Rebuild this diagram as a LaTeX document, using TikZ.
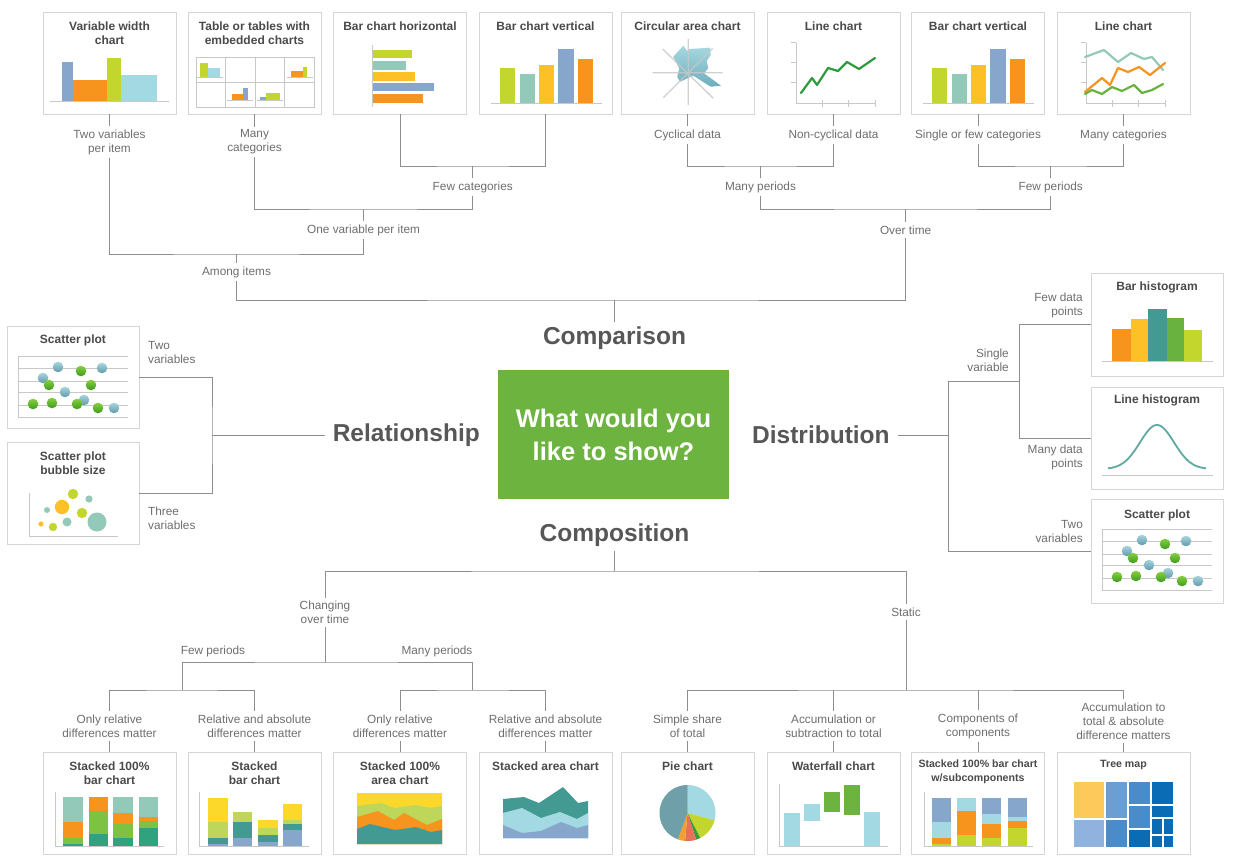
\documentclass[tikz,border=0pt]{standalone}
\usepackage{fontspec}
\setmainfont{Liberation Sans}
\definecolor{boxgray}{HTML}{D6D6D6}
\definecolor{linegray}{HTML}{8E8E8E}
\definecolor{lblgray}{HTML}{6E6E6E}
\definecolor{ttlgray}{HTML}{4A4A4A}
\definecolor{biggray}{HTML}{575757}
\definecolor{axgray}{HTML}{C8C8C8}
\definecolor{cgreen}{HTML}{6DB33F}
\definecolor{cyg}{HTML}{C2D62E}
\definecolor{cmint}{HTML}{93C9B8}
\definecolor{cyellow}{HTML}{FDC127}
\definecolor{cyellowb}{HTML}{FCD82B}
\definecolor{cblue}{HTML}{86A6CB}
\definecolor{corange}{HTML}{F7941D}
\definecolor{clblue}{HTML}{A3D9E2}
\definecolor{cteal}{HTML}{439A92}
\definecolor{cgreenb}{HTML}{6AB23F}
\definecolor{cdgreen}{HTML}{2E9B3E}
\definecolor{cgreenc}{HTML}{7DC242}
\definecolor{ctgreen}{HTML}{2FA37E}
\definecolor{cyg2}{HTML}{BED65A}
\definecolor{btealA}{HTML}{A9D5DF}
\definecolor{btealB}{HTML}{5F9AA8}
\definecolor{bgreenA}{HTML}{86D040}
\definecolor{bgreenB}{HTML}{3E9A1F}
\definecolor{circA}{HTML}{A6D8E1}
\definecolor{circB}{HTML}{6FAEBC}
\definecolor{psalmon}{HTML}{E8705A}
\definecolor{porange}{HTML}{F0A030}
\definecolor{pdgreen}{HTML}{3A9A3A}
\definecolor{pgteal}{HTML}{6F9FA8}
\definecolor{tyellow}{HTML}{FDC95B}
\definecolor{tlblue}{HTML}{8FB3DE}
\definecolor{tmed}{HTML}{6A9FD6}
\definecolor{tblue}{HTML}{4A8CC9}
\definecolor{tdark}{HTML}{0A6CB5}
\tikzset{
 panel/.style={draw=boxgray, line width=0.9pt, fill=white, rectangle, inner sep=0pt},
 conn/.style={draw=linegray, line width=0.9pt},
 lbl/.style={font=\fontsize{11.8}{14}\selectfont, text=lblgray, align=center, inner xsep=1pt, inner ysep=3pt},
 ttl/.style={font=\bfseries\fontsize{12}{14}\selectfont, text=ttlgray, align=center, inner sep=0pt},
 ttls/.style={font=\bfseries\fontsize{10.6}{13.5}\selectfont, text=ttlgray, align=center, inner sep=0pt},
 big/.style={font=\bfseries\fontsize{24.5}{28}\selectfont, text=biggray, inner xsep=8pt, inner ysep=4pt},
 axisl/.style={draw=axgray, line width=1pt},
 gridl/.style={draw=axgray, line width=0.8pt},
 chline/.style={line width=2.2pt, line join=round, line cap=round},
 tball/.style={top color=btealA, bottom color=btealB},
 gball/.style={top color=bgreenA, bottom color=bgreenB},
}
\newcommand{\myscatter}[2]{%
\begin{scope}[shift={(#1,#2)}]
\foreach \yy in {30,42,55,66,79} \draw[gridl] (11,\yy) -- (121,\yy);
\draw[axisl] (11,30) -- (11,91) -- (121,91);
\foreach \p in {(51,41),(95,42),(36,52),(58,66),(77,74),(107,82)} \shade[tball] \p circle (5.3);
\foreach \p in {(74,45),(42,59),(84,59),(26,78),(45,77),(70,78),(91,82)} \shade[gball] \p circle (5.3);
\end{scope}}
\begin{document}
\begin{tikzpicture}[x=1pt,y=-1pt]
\useasboundingbox (0,0) rectangle (1245,864);
\fill[white] (0,0) rectangle (1245,864);

% ---------- top panels ----------
\foreach \i/\cx in {1/109.5,2/254.5,3/400,4/545.5,5/687.5,6/833.5,7/978,8/1123.5}
  \node[panel, minimum width=133pt, minimum height=102pt] (t\i) at (\cx,63) {};
\node[ttl] (tt1) at (109.5,33) {Variable width\\chart};
\node[ttl] (tt2) at (254.5,33) {Table or tables with\\embedded charts};
\node[ttl] (tt3) at (400,26) {Bar chart horizontal};
\node[ttl] (tt4) at (545.5,26) {Bar chart vertical};
\node[ttl] (tt5) at (687.5,26) {Circular area chart};
\node[ttl] (tt6) at (833.5,26) {Line chart};
\node[ttl] (tt7) at (978,26) {Bar chart vertical};
\node[ttl] (tt8) at (1123.5,26) {Line chart};

% chart 1 variable width
\fill[cblue] (62,62) rectangle (73,102);
\fill[corange] (73,80) rectangle (106.5,102);
\fill[cyg] (106.5,58) rectangle (121,102);
\fill[clblue] (121,75) rectangle (157,102);
\draw[axisl] (50,102) -- (169,102);
% chart 2 table
\draw[gridl] (196,57) rectangle (314,107);
\draw[gridl] (225.5,57) -- (225.5,107) (255,57) -- (255,107) (284.5,57) -- (284.5,107) (196,82) -- (314,82);
\fill[cyg] (200,63) rectangle (207.5,77); \fill[clblue] (207.5,68) rectangle (220,77);
\draw[axisl,line width=0.7pt] (197,77.5) -- (223,77.5);
\fill[corange] (291,71) rectangle (303,77); \fill[cyg] (303,67) rectangle (307,77);
\draw[axisl,line width=0.7pt] (287,77.5) -- (313,77.5);
\fill[corange] (232,94) rectangle (243,100); \fill[cblue] (243,88) rectangle (248,100);
\draw[axisl,line width=0.7pt] (227,100.5) -- (253,100.5);
\fill[cblue] (259.5,97) rectangle (266,100); \fill[cyg] (266,93) rectangle (280,100);
\draw[axisl,line width=0.7pt] (257,100.5) -- (283,100.5);
% chart 3 horizontal bars
\fill[cyg] (372,50) rectangle (412,58);
\fill[cmint] (372,61) rectangle (406,70);
\fill[cyellow] (372,72) rectangle (415,81);
\fill[cblue] (372,83) rectangle (434,91);
\fill[corange] (372,94) rectangle (423,103);
\draw[axisl] (372,45) -- (372,107);
% chart 4 and 7 vertical bars
\foreach \dx in {0,432}{
\begin{scope}[shift={(\dx,0)}]
\fill[cyg] (500,68) rectangle (515,104);
\fill[cmint] (519.5,74) rectangle (534.5,104);
\fill[cyellow] (539,65) rectangle (554,104);
\fill[cblue] (558,49) rectangle (573.5,104);
\fill[corange] (578,59) rectangle (593,104);
\draw[axisl] (491,104) -- (602,104);
\end{scope}}
% chart 5 circular area
\shade[top color=circA, bottom color=circB] (673.3,56.7) -- (683.3,45.7) -- (687.3,51) -- (690,49) -- (710,47.7) -- (710.7,55) -- (706.7,61) -- (708.3,68.3) -- (704,73.3) -- (721,85.7) -- (710.7,86.7) -- (693.3,75.7) -- (680,81.7) -- (677.3,76.7) -- (679.3,68.3) -- cycle;
\draw[axgray, opacity=0.85, line width=1.3pt] (688.3,39) -- (688.3,105) (652.7,72.7) -- (722.7,72.7) (662.7,49) -- (713.3,98.3) (712.7,48.3) -- (663.3,97.7);
% chart 6 line chart
\draw[axisl] (796,43) -- (796,104) -- (875,104);
\draw[axisl] (791,43) -- (796,43) (791,63) -- (796,63) (791,83) -- (796,83) (822,100) -- (822,107) (848,100) -- (848,107) (875,100) -- (875,107);
\draw[chline, cdgreen] (801,93) -- (812,78) -- (817,85) -- (828,68) -- (838,71) -- (847,62) -- (859,69) -- (875,58);
% chart 8 multi line chart
\draw[axisl] (1086,43) -- (1086,104) -- (1165,104);
\draw[axisl] (1081,43) -- (1086,43) (1081,63) -- (1086,63) (1081,83) -- (1086,83) (1112,100) -- (1112,107) (1138,100) -- (1138,107) (1165,100) -- (1165,107);
\draw[chline, cmint] (1085,57) -- (1104,50) -- (1118,62) -- (1131,53) -- (1144,59) -- (1152,57) -- (1163,70);
\draw[chline, corange] (1085,92) -- (1102,78) -- (1110,85) -- (1118,68) -- (1128,72) -- (1139,67) -- (1150,75) -- (1165,63);
\draw[chline, cgreenb] (1085,94) -- (1092,90) -- (1102,94) -- (1112,87) -- (1122,91) -- (1134,85) -- (1142,93) -- (1152,90) -- (1163,84);

% ---------- top labels and tree ----------
\node[lbl] (l1) at (109.5,142) {Two variables\\per item};
\node[lbl] (l2) at (254.5,142) {Many\\categories};
\node[lbl] (l5) at (687.5,135) {Cyclical data};
\node[lbl] (l6) at (833.5,135) {Non-cyclical data};
\node[lbl] (l7) at (978,135) {Single or few categories};
\node[lbl] (l8) at (1123.5,135) {Many categories};
\node[lbl] (fc) at (472.75,187) {Few categories};
\node[lbl] (mp) at (760.5,187) {Many periods};
\node[lbl] (fp) at (1050.75,187) {Few periods};
\node[lbl] (ov) at (363.6,230) {One variable per item};
\node[lbl] (ot) at (905.6,230) {Over time};
\node[lbl] (ai) at (236.5,272) {Among items};
\node[big] (cmp) at (614.5,338) {Comparison};

\coordinate (j1) at (472.75,166);
\coordinate (j2) at (363.6,209);
\coordinate (j3) at (236.5,254);
\coordinate (j4) at (760.5,166);
\coordinate (j5) at (1050.75,166);
\coordinate (j6) at (905.6,209);
\coordinate (j7) at (614.5,300);
\foreach \i in {1,2,5,6,7,8} \draw[conn] (t\i.south) -- (l\i.north);
\draw[conn] (t3.south) |- (j1) -| (t4.south);
\draw[conn] (j1) -- (fc.north);
\draw[conn] (l2.south) |- (j2) -| (fc.south);
\draw[conn] (j2) -- (ov.north);
\draw[conn] (l1.south) |- (j3) -| (ov.south);
\draw[conn] (j3) -- (ai.north);
\draw[conn] (l5.south) |- (j4) -| (l6.south);
\draw[conn] (j4) -- (mp.north);
\draw[conn] (l7.south) |- (j5) -| (l8.south);
\draw[conn] (j5) -- (fp.north);
\draw[conn] (mp.south) |- (j6) -| (fp.south);
\draw[conn] (j6) -- (ot.north);
\draw[conn] (ai.south) |- (j7) -| (ot.south);
\draw[conn] (j7) -- (cmp.north);

% ---------- centre ----------
\node[fill=cgreen, minimum width=231pt, minimum height=129pt, inner sep=0pt, text=white, align=center, font=\bfseries\fontsize{25.5}{33}\selectfont] (q) at (613.5,434.5) {What would you\\like to show?};

% ---------- relationship ----------
\node[panel, minimum width=132pt, minimum height=102pt] (sp) at (73,377) {};
\node[panel, minimum width=132pt, minimum height=102pt] (bb) at (73,493) {};
\node[ttl] (tsp) at (73,340) {Scatter plot};
\node[ttl] (tbb) at (73,463) {Scatter plot\\bubble size};
\myscatter{7}{326}
\draw[axisl] (29,493) -- (29,536) -- (118,536);
\fill[cyg] (73,494) circle (5.2);
\fill[cmint] (89,499) circle (3.6);
\fill[cyellow] (62,507) circle (7.2);
\fill[cmint] (47,510) circle (3);
\fill[cyg] (82,513) circle (5.2);
\fill[cmint] (67,522) circle (4.5);
\fill[cmint] (97,522) circle (9.5);
\fill[cyellow] (41,524) circle (2.6);
\fill[cyg] (53,527) circle (4.2);
\node[lbl, align=left, anchor=west, inner xsep=0pt] (rl1) at (148,352.5) {Two\\variables};
\node[lbl, align=left, anchor=west, inner xsep=0pt] (rl2) at (148,518) {Three\\variables};
\node[big, anchor=east] (rel) at (488,435) {Relationship};
\coordinate (jr) at (212,435);
\draw[conn] (sp.east) -| (jr) |- (bb.east);
\draw[conn] (jr) -- (rel.west);

% ---------- distribution ----------
\node[panel, minimum width=132pt, minimum height=103pt] (bh) at (1157,324.5) {};
\node[panel, minimum width=132pt, minimum height=102pt] (lh) at (1157,438) {};
\node[panel, minimum width=132pt, minimum height=104pt] (sc2) at (1157,551) {};
\node[ttl] (tbh) at (1157,287) {Bar histogram};
\node[ttl] (tlh) at (1157,400) {Line histogram};
\node[ttl] (tsc2) at (1157,515) {Scatter plot};
\fill[corange] (1112,329) rectangle (1131,361);
\fill[cyellow] (1131,319) rectangle (1148,361);
\fill[cteal] (1148,309) rectangle (1167,361);
\fill[cgreenb] (1167,318) rectangle (1184,361);
\fill[cyg] (1184,330) rectangle (1202,361);
\draw[axisl] (1102,361.5) -- (1213,361.5);
\draw[axisl] (1102,475) -- (1213,475);
\draw[cteal!85!white, line width=1.8pt] plot[domain=1108:1206, samples=60] (\x,{469-44*exp(-((\x-1157)/24)^2)});
\myscatter{1091}{499}
\node[big, anchor=west] (dist) at (744,435) {Distribution};
\node[lbl, align=right, anchor=east, inner xsep=0pt] (dl1) at (1083,305.5) {Few data\\points};
\node[lbl, align=right, anchor=east, inner xsep=0pt] (dl2) at (1009,360.5) {Single\\variable};
\node[lbl, align=right, anchor=east, inner xsep=0pt] (dl3) at (1083,457) {Many data\\points};
\node[lbl, align=right, anchor=east, inner xsep=0pt] (dl4) at (1083,531.5) {Two\\variables};
\coordinate (jd) at (948,435);
\coordinate (js) at (1019,381);
\draw[conn] (dist.east) -- (jd);
\draw[conn] (js) -| (jd) |- (sc2.west);
\draw[conn] (bh.west) -| (js) |- (lh.west);

% ---------- composition ----------
\node[big] (comp) at (614.5,535) {Composition};
\node[lbl] (ch) at (325,612.5) {Changing\\over time};
\node[lbl] (st) at (906,612) {Static};
\node[lbl] (fewp) at (213,651) {Few periods};
\node[lbl] (manyp) at (437,651) {Many periods};
\node[lbl] (b1l) at (109.5,726) {Only relative\\differences matter};
\node[lbl] (b2l) at (254.5,726) {Relative and absolute\\differences matter};
\node[lbl] (b3l) at (400,726) {Only relative\\differences matter};
\node[lbl] (b4l) at (545.5,726) {Relative and absolute\\differences matter};
\node[lbl] (b5l) at (687.5,726) {Simple share\\of total};
\node[lbl] (b6l) at (833.5,726) {Accumulation or\\subtraction to total};
\node[lbl] (b7l) at (978,726) {Components of\\components};
\node[lbl] (b8l) at (1123.5,721) {Accumulation to\\total \& absolute\\difference matters};
\foreach \i/\cx in {1/109.5,2/254.5,3/400,4/545.5,5/687.5,6/833.5,7/978,8/1123.5}
  \node[panel, minimum width=133pt, minimum height=102pt] (b\i) at (\cx,803) {};
\coordinate (jc) at (614.5,571);
\coordinate (jcl) at (325,662);
\coordinate (jf) at (182,690);
\coordinate (jm) at (472.75,690);
\coordinate (jst) at (906,690);
\draw[conn] (comp.south) -- (jc);
\draw[conn] (ch.north) |- (jc) -| (st.north);
\draw[conn] (ch.south) -- (jcl);
\draw[conn] (jf) |- (jcl) -| (jm);
\draw[conn] (b1l.north) |- (jf) -| (b2l.north);
\draw[conn] (b3l.north) |- (jm) -| (b4l.north);
\draw[conn] (st.south) -- (jst);
\draw[conn] (b5l.north) |- (jst) -| (b8l.north);
\draw[conn] (b6l.north) -- (b6l.north |- jst);
\draw[conn] (b7l.north) -- (b7l.north |- jst);
\foreach \i in {1,...,8} \draw[conn] (b\i l.south) -- (b\i.north);

\node[ttl] (tb1) at (109.5,773) {Stacked 100\%\\bar chart};
\node[ttl] (tb2) at (254.5,773) {Stacked\\bar chart};
\node[ttl] (tb3) at (400,773) {Stacked 100\%\\area chart};
\node[ttl] (tb4) at (545.5,766) {Stacked area chart};
\node[ttl] (tb5) at (687.5,766) {Pie chart};
\node[ttl] (tb6) at (833.5,766) {Waterfall chart};
\node[ttls] (tb7) at (978,772) {Stacked 100\% bar chart\\w/subcomponents};
\node[ttls] (tb8) at (1123.5,765) {Tree map};

% B1 stacked 100% bar
\fill[cmint] (63,797) rectangle (83,822); \fill[corange] (63,822) rectangle (83,838); \fill[cgreenc] (63,838) rectangle (83,844); \fill[ctgreen] (63,844) rectangle (83,846);
\fill[corange] (89,797) rectangle (108,811); \fill[cgreenc] (89,811) rectangle (108,834); \fill[ctgreen] (89,834) rectangle (108,846);
\fill[cmint] (113,797) rectangle (133,813); \fill[corange] (113,813) rectangle (133,824); \fill[cgreenc] (113,824) rectangle (133,838); \fill[ctgreen] (113,838) rectangle (133,846);
\fill[cmint] (139,797) rectangle (158,817); \fill[corange] (139,817) rectangle (158,821); \fill[cgreenc] (139,821) rectangle (158,828); \fill[ctgreen] (139,828) rectangle (158,846);
\draw[axisl] (55,792) -- (55,846) -- (164,846);
% B2 stacked bar
\fill[cyellowb] (208,798) rectangle (228,822); \fill[cyg2] (208,822) rectangle (228,838); \fill[cteal] (208,838) rectangle (228,844); \fill[cblue] (208,844) rectangle (228,846);
\fill[cyg2] (233,812) rectangle (252,822); \fill[cteal] (233,822) rectangle (252,838); \fill[cblue] (233,838) rectangle (252,846);
\fill[cyellowb] (258,820) rectangle (278,828); \fill[cyg2] (258,828) rectangle (278,835); \fill[cteal] (258,835) rectangle (278,842); \fill[cblue] (258,842) rectangle (278,846);
\fill[cyellowb] (283,804) rectangle (302,820); \fill[cyg2] (283,820) rectangle (302,824); \fill[cteal] (283,824) rectangle (302,830); \fill[cblue] (283,830) rectangle (302,846);
\draw[axisl] (199,792) -- (199,846) -- (309,846);
% B3 stacked 100% area
\fill[cyellowb] (357,793) rectangle (442,844);
\fill[cyg2] (357,806) -- (382,803) -- (394,808) -- (416,805) -- (431,808) -- (442,806) -- (442,844) -- (357,844) -- cycle;
\fill[corange] (357,817) -- (378,811) -- (394,820) -- (404,813) -- (427,825) -- (442,819) -- (442,844) -- (357,844) -- cycle;
\fill[cteal] (357,829) -- (370,824) -- (395,830) -- (416,827) -- (431,832) -- (442,830) -- (442,844) -- (357,844) -- cycle;
% B4 stacked area
\fill[cteal] (503,799) -- (524,797) -- (539,803) -- (563,787) -- (578,803) -- (588,801) -- (588,838) -- (503,838) -- cycle;
\fill[clblue] (503,813) -- (522,808) -- (541,818) -- (560,812) -- (577,819) -- (588,813) -- (588,838) -- (503,838) -- cycle;
\fill[cblue] (503,825) -- (522,833) -- (541,831) -- (561,822) -- (577,828) -- (588,825) -- (588,838) -- (503,838) -- cycle;
% B5 pie
\fill[clblue] (687.5,813) -- plot[domain=-90:15, samples=30] ({687.5+28*cos(\x)},{813+28*sin(\x)}) -- cycle;
\fill[cyg] (687.5,813) -- plot[domain=15:63, samples=20] ({687.5+28*cos(\x)},{813+28*sin(\x)}) -- cycle;
\fill[pdgreen] (687.5,813) -- plot[domain=63:72, samples=6] ({687.5+28*cos(\x)},{813+28*sin(\x)}) -- cycle;
\fill[psalmon] (687.5,813) -- plot[domain=72:95, samples=10] ({687.5+28*cos(\x)},{813+28*sin(\x)}) -- cycle;
\fill[porange] (687.5,813) -- plot[domain=95:110, samples=8] ({687.5+28*cos(\x)},{813+28*sin(\x)}) -- cycle;
\fill[pgteal] (687.5,813) -- plot[domain=110:270, samples=40] ({687.5+28*cos(\x)},{813+28*sin(\x)}) -- cycle;
% B6 waterfall
\fill[clblue] (784,813) rectangle (800,846);
\fill[clblue] (804,804) rectangle (820,821);
\fill[cgreen] (824,792) rectangle (840,812);
\fill[cgreen] (844,785) rectangle (860,815);
\fill[clblue] (864,812) rectangle (880,846);
\draw[axisl] (779,784) -- (779,846) -- (888,846);
% B7 stacked 100% with subcomponents
\fill[cblue] (932,798) rectangle (951,822); \fill[clblue] (932,822) rectangle (951,838); \fill[corange] (932,838) rectangle (951,844); \fill[cyg] (932,844) rectangle (951,846);
\fill[clblue] (957,798) rectangle (976,811); \fill[corange] (957,811) rectangle (976,835); \fill[cyg] (957,835) rectangle (976,846);
\fill[cblue] (982,798) rectangle (1001,814); \fill[clblue] (982,814) rectangle (1001,824); \fill[corange] (982,824) rectangle (1001,838); \fill[cyg] (982,838) rectangle (1001,846);
\fill[cblue] (1008,798) rectangle (1027,817); \fill[clblue] (1008,817) rectangle (1027,821); \fill[corange] (1008,821) rectangle (1027,828); \fill[cyg] (1008,828) rectangle (1027,846);
\draw[axisl] (924,792) -- (924,846) -- (1033,846);
% B8 tree map
\fill[tyellow] (1074,782) rectangle (1104,818);
\fill[tlblue] (1074,819.5) rectangle (1104,847);
\fill[tmed] (1105.5,782) rectangle (1127,818);
\fill[tblue] (1105.5,819.5) rectangle (1127,847);
\fill[tblue] (1128.5,782) rectangle (1150,804);
\fill[tblue] (1128.5,805.5) rectangle (1150,828);
\fill[tdark] (1128.5,829.5) rectangle (1150,847);
\fill[tdark] (1151.5,782) rectangle (1173,804);
\fill[tdark] (1151.5,805.5) rectangle (1173,817);
\fill[tdark] (1151.5,818.5) rectangle (1162,834);
\fill[tdark] (1163.5,818.5) rectangle (1173,834);
\fill[tdark] (1151.5,835.5) rectangle (1162,847);
\fill[tdark] (1163.5,835.5) rectangle (1173,847);
\end{tikzpicture}
\end{document}
